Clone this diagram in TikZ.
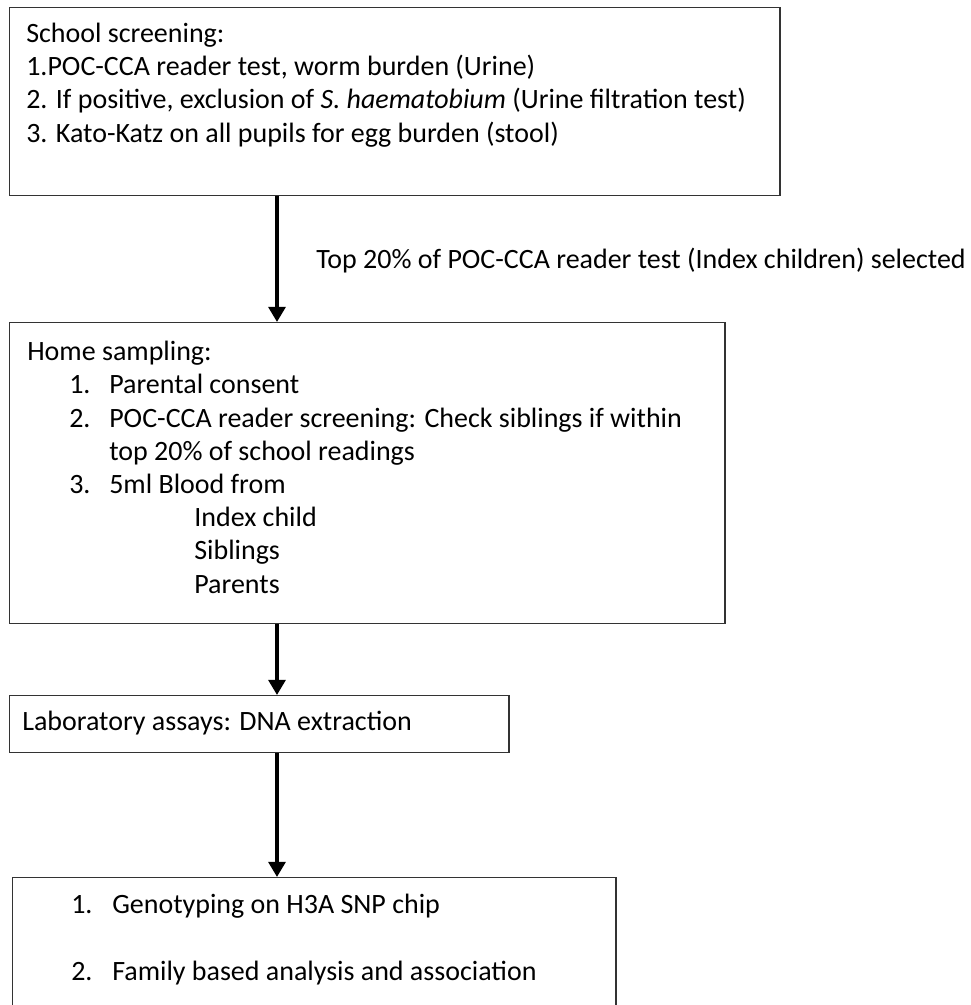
\documentclass[tikz,border=0pt]{standalone}
\usepackage{fontspec}
\setmainfont{Carlito}
\usetikzlibrary{arrows.meta, positioning}

\begin{document}
\begin{tikzpicture}[x=0.025cm, y=-0.025cm,
        box/.style={rectangle, draw=black!80, line width=0.035cm, anchor=north west, inner sep=0},
        txt/.style={anchor=base west, inner sep=0, align=left, font=\fontsize{19.9pt}{23.6pt}\selectfont},
        flow/.style={line width=0.1cm, -{Triangle[width=0.42cm, length=0.38cm]}}]
        \clip (0,0) rectangle (971,1005);
        \fill[white] (0,0) rectangle (971,1005);

        % text nodes sit on the baseline of their last line
        \node[box, minimum width=19.25cm, minimum height=4.7cm] (school) at (9,7) {};
        \node[txt] (schooltxt) at (26,142) {School screening:\\
            1.POC-CCA reader test, worm burden (Urine)\\
            2. If positive, exclusion of \textit{S. haematobium} (Urine filtration test)\\
            3. Kato-Katz on all pupils for egg burden (stool)};

        \node[box, minimum width=17.875cm, minimum height=7.525cm] (home) at (9,322) {};
        \node[txt] (hometxt) at (27,593) {Home sampling:\\
            \hspace*{1.05cm}\makebox[1cm][l]{1.}Parental consent\\
            \hspace*{1.05cm}\makebox[1cm][l]{2.}POC-CCA reader screening: Check siblings if within\\
            \hspace*{2.05cm}top 20\% of school readings\\
            \hspace*{1.05cm}\makebox[1cm][l]{3.}5ml Blood from\\
            \hspace*{4.175cm}Index child\\
            \hspace*{4.175cm}Siblings\\
            \hspace*{4.175cm}Parents};

        \node[box, minimum width=12.475cm, minimum height=1.425cm] (lab) at (9,695) {};
        \node[txt] (labtxt) at (22,730) {Laboratory assays: DNA extraction};

        \node[box, minimum width=15.075cm, minimum height=3.6cm] (geno) at (12,877) {};
        \node[txt] (genotxt) at (71,980) {\makebox[1.025cm][l]{1.}Genotyping on H3A SNP chip\\[0.825cm]
            \makebox[1.025cm][l]{2.}Family based analysis and association};

        \coordinate (axis) at (277,0);
        \draw[flow] (school.south -| axis) -- (home.north -| axis);
        \draw[flow] (home.south -| axis) -- (lab.north -| axis);
        \draw[flow] (lab.south -| axis) -- (geno.north -| axis);

        \node[txt] (sel) at (316,268) {Top 20\% of POC-CCA reader test (Index children) selected};
    \end{tikzpicture}
\end{document}
